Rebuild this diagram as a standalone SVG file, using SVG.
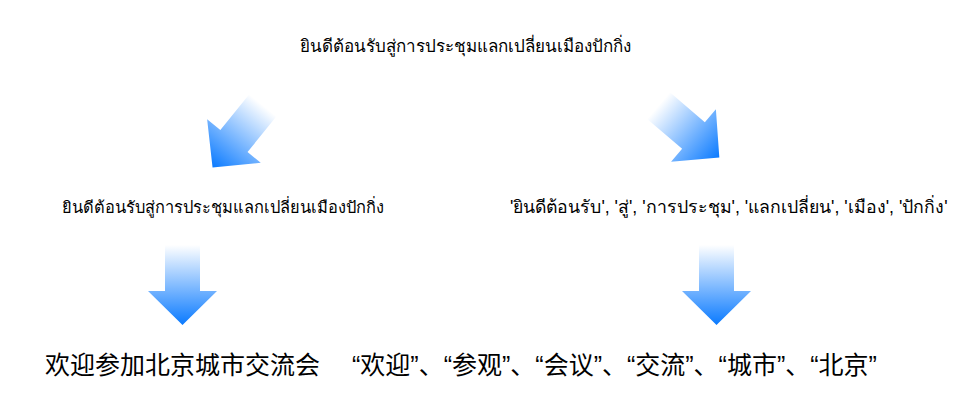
<svg xmlns="http://www.w3.org/2000/svg" width="974" height="400" viewBox="0 0 974 400">
<style>
.th{font-family:"Liberation Serif","Noto Sans",serif;fill:#000}
.th2{font-family:"Liberation Sans","Noto Sans",sans-serif;fill:#000}
.zh{font-family:"Liberation Sans","Noto Sans CJK SC",sans-serif;font-size:25px;fill:#000}
</style>
<defs>
<linearGradient id="g" x1="0" y1="0" x2="0" y2="1">
<stop offset="0" stop-color="#ffffff"/>
<stop offset="1" stop-color="#0a7aff"/>
</linearGradient>
<path id="arr" d="M-17.5,0 L17.5,0 L17.5,46 L34.5,46 L0,80 L-34.5,46 L-17.5,46 Z" fill="url(#g)"/>
</defs>
<rect width="974" height="400" fill="#fff"/>
<g id="connectors">
<use href="#arr" transform="translate(262.9,105.3) rotate(39)"/>
<use href="#arr" transform="translate(658.5,105.6) rotate(-49.5)"/>
<use href="#arr" transform="translate(182.5,245)"/>
<use href="#arr" transform="translate(716.5,245)"/>
</g>
<g id="node-top"><text class="th" x="300" y="52" font-size="17">ยินดีต้อนรับสู่การประชุมแลกเปลี่ยนเมืองปักกิ่ง</text></g>
<g id="node-left"><text class="th" x="62" y="213" font-size="16.4">ยินดีต้อนรับสู่การประชุมแลกเปลี่ยนเมืองปักกิ่ง</text></g>
<g id="node-right"><text class="th2" x="510" y="213" font-size="17.7">'ยินดีต้อนรับ', 'สู่', 'การประชุม', 'แลกเปลี่ยน', 'เมือง', 'ปักกิ่ง'</text></g>
<g id="node-bl"><text class="zh" x="45" y="374">欢迎参加北京城市交流会</text></g>
<g id="node-br"><text class="zh" x="352" y="374">“欢迎”、“参观”、“会议”、“交流”、“城市”、“北京”</text></g>
</svg>
